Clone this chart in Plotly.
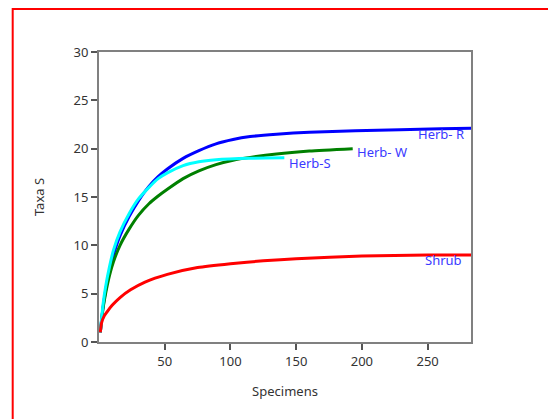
import plotly.graph_objects as go

# Data (rarefaction curves)
herb_r_x = [1, 3, 5, 8, 11, 16, 23, 30, 38, 45, 52, 64, 76, 89, 102, 115, 135, 160, 195, 229, 260, 283]
herb_r_y = [1, 3.5, 5.3, 7.4, 9.0, 11.0, 13.0, 14.6, 16.1, 17.1, 17.9, 19.0, 19.8, 20.5, 20.95, 21.25, 21.5, 21.7, 21.85, 21.95, 22.05, 22.1]

herb_s_x = [1, 3, 5, 8, 11, 16, 23, 30, 38, 45, 52, 64, 76, 89, 115, 141]
herb_s_y = [1, 3.8, 5.7, 7.8, 9.5, 11.4, 13.3, 14.8, 16.0, 16.9, 17.5, 18.25, 18.65, 18.85, 19.0, 19.05]

herb_w_x = [1, 3, 5, 8, 11, 16, 23, 30, 38, 45, 52, 64, 76, 89, 102, 115, 135, 160, 193]
herb_w_y = [1, 3.4, 5.0, 6.9, 8.3, 10.0, 11.7, 13.1, 14.3, 15.1, 15.8, 16.9, 17.7, 18.35, 18.8, 19.1, 19.45, 19.75, 20.0]

shrub_x = [1, 2, 4, 6, 10, 16, 24, 35, 52, 75, 100, 125, 150, 200, 250, 283]
shrub_y = [1, 2.0, 2.7, 3.1, 3.8, 4.6, 5.4, 6.2, 7.0, 7.7, 8.1, 8.4, 8.6, 8.9, 9.0, 9.0]

x_ticks = [50, 100, 150, 200, 250]
y_ticks = [0, 5, 10, 15, 20, 25, 30]

FONT = "Noto Sans"
LABEL_COLOR = "#3a3aff"

fig = go.Figure()
series = [
    ("Herb-R", herb_r_x, herb_r_y, "#0000ff"),
    ("Herb-W", herb_w_x, herb_w_y, "#008000"),
    ("Herb-S", herb_s_x, herb_s_y, "#00ffff"),
    ("Shrub", shrub_x, shrub_y, "#ff0000"),
]
for name, xs, ys, col in series:
    fig.add_trace(go.Scatter(x=xs, y=ys, mode="lines", name=name,
                             line=dict(color=col, width=3, shape="spline", smoothing=0.6),
                             showlegend=False))

labels = [
    ("Herb- R", herb_r_x[-1] - 4, herb_r_y[-1] - 0.6, "right"),
    ("Herb- W", herb_w_x[-1] + 2, herb_w_y[-1] - 0.3, "left"),
    ("Herb-S", herb_s_x[-1] + 2, herb_s_y[-1] - 0.55, "left"),
    ("Shrub", shrub_x[-1] - 5, shrub_y[-1] - 0.5, "right"),
]
for text, x, y, anchor in labels:
    fig.add_annotation(x=x, y=y, text=text, showarrow=False, xanchor=anchor, yanchor="middle",
                       font=dict(family=FONT, size=13, color=LABEL_COLOR))

axis_common = dict(showgrid=False, zeroline=False, showline=True, linecolor="#808080", linewidth=2,
                   mirror=True, ticks="outside", ticklen=6, tickwidth=1.5, tickcolor="#555555",
                   tickfont=dict(family=FONT, size=13, color="#333333"))

fig.update_xaxes(range=[0, 283], tickvals=x_ticks,
                 title=dict(text="Specimens", font=dict(family=FONT, size=13, color="#333333"), standoff=18),
                 **axis_common)
fig.update_yaxes(range=[0, 30], tickvals=y_ticks,
                 title=dict(text="Taxa S", font=dict(family=FONT, size=13, color="#333333"), standoff=26),
                 **axis_common)

fig.add_shape(type="rect", xref="paper", yref="paper", x0=-0.232, x1=1.5, y0=-0.5, y1=1.148,
              line=dict(color="#ff0000", width=2), fillcolor="rgba(0,0,0,0)", layer="below")

fig.update_layout(width=548, height=411, margin=dict(l=91, r=85, t=44, b=77),
                  paper_bgcolor="white", plot_bgcolor="white",
                  font=dict(family=FONT, size=13, color="#333333"))

fig.write_html("out.html")
